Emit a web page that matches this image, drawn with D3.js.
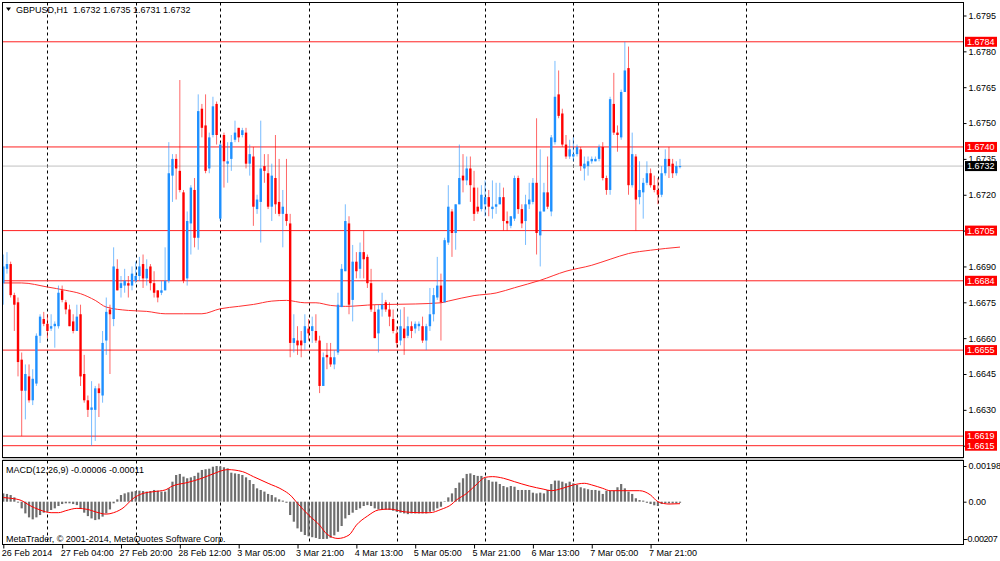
<!DOCTYPE html>
<html>
<head>
<meta charset="utf-8">
<script src="https://cdn.jsdelivr.net/npm/d3@7"></script>
<style>
  body { margin: 0; background: #fff; }
  svg { display: block; }
</style>
</head>
<body>
<svg id="chart" width="1000" height="561"></svg>
<script>
// GBPUSD H1 candles, one entry per bar (bar 0 = 26 Feb 2014 12:00)
const opens = [1.6683,1.6689,1.6691,1.6678,1.6675,1.6651,1.6638,1.6644,1.6634,1.6641,
1.6661,1.6668,1.6666,1.6664,1.6665,1.6665,1.6680,1.6675,1.6672,1.6667,
1.6663,1.6670,1.6645,1.6634,1.6630,1.6630,1.6639,1.6636,1.6659,1.6672,
1.6668,1.6689,1.6681,1.6682,1.6683,1.6682,1.6684,1.6686,1.6691,1.6685,
1.6690,1.6683,1.6680,1.6679,1.6680,1.6684,1.6728,1.6735,1.6730,1.6721,
1.6685,1.6708,1.6722,1.6702,1.6756,1.6749,1.6731,1.6745,1.6758,1.6710,
1.6745,1.6733,1.6735,1.6743,1.6748,1.6745,1.6746,1.6733,1.6736,1.6714,
1.6717,1.6732,1.6729,1.6715,1.6727,1.6717,1.6712,1.6712,1.6708,1.6658,
1.6659,1.6659,1.6658,1.6664,1.6663,1.6663,1.6659,1.6640,1.6653,1.6652,
1.6649,1.6654,1.6673,1.6688,1.6708,1.6676,1.6692,1.6689,1.6696,1.6694,
1.6683,1.6671,1.6662,1.6672,1.6675,1.6672,1.6668,1.6662,1.6659,1.6664,
1.6661,1.6665,1.6664,1.6665,1.6665,1.6659,1.6665,1.6670,1.6677,1.6682,
1.6675,1.6700,1.6713,1.6704,1.6716,1.6728,1.6726,1.6731,1.6723,1.6715,
1.6714,1.6716,1.6719,1.6714,1.6715,1.6716,1.6719,1.6709,1.6707,1.6710,
1.6727,1.6714,1.6709,1.6716,1.6717,1.6725,1.6703,1.6713,1.6721,1.6713,
1.6742,1.6762,1.6754,1.6741,1.6736,1.6736,1.6737,1.6739,1.6731,1.6732,
1.6734,1.6734,1.6735,1.6740,1.6727,1.6722,1.6758,1.6746,1.6744,1.6763,
1.6773,1.6724,1.6736,1.6719,1.6721,1.6725,1.6729,1.6724,1.6722,1.6720,
1.6729,1.6735,1.6733,1.6729,1.6732]
const highs = [1.6695,1.6696,1.6692,1.6679,1.6677,1.6654,1.6649,1.6649,1.6647,1.6662,
1.6670,1.6671,1.6670,1.6670,1.6667,1.6682,1.6682,1.6676,1.6674,1.6670,
1.6674,1.6674,1.6653,1.6636,1.6642,1.6640,1.6641,1.6663,1.6677,1.6674,
1.6698,1.6693,1.6686,1.6689,1.6686,1.6690,1.6692,1.6694,1.6695,1.6693,
1.6691,1.6688,1.6680,1.6684,1.6698,1.6742,1.6737,1.6737,1.6768,1.6722,
1.6713,1.6724,1.6727,1.6762,1.6758,1.6762,1.6746,1.6761,1.6759,1.6742,
1.6746,1.6742,1.6745,1.6751,1.6748,1.6748,1.6748,1.6741,1.6740,1.6720,
1.6751,1.6737,1.6737,1.6733,1.6745,1.6735,1.6722,1.6735,1.6712,1.6670,
1.6665,1.6663,1.6670,1.6668,1.6669,1.6670,1.6661,1.6654,1.6658,1.6658,
1.6655,1.6679,1.6691,1.6716,1.6711,1.6699,1.6696,1.6700,1.6705,1.6695,
1.6689,1.6674,1.6674,1.6679,1.6676,1.6675,1.6672,1.6665,1.6672,1.6673,
1.6669,1.6667,1.6667,1.6667,1.6669,1.6666,1.6681,1.6681,1.6694,1.6687,
1.6702,1.6724,1.6714,1.6716,1.6741,1.6737,1.6736,1.6736,1.6730,1.6723,
1.6724,1.6726,1.6722,1.6726,1.6725,1.6725,1.6723,1.6713,1.6711,1.6728,
1.6728,1.6716,1.6720,1.6725,1.6727,1.6752,1.6739,1.6725,1.6736,1.6745,
1.6776,1.6772,1.6756,1.6745,1.6743,1.6744,1.6741,1.6740,1.6736,1.6736,
1.6736,1.6736,1.6741,1.6742,1.6728,1.6761,1.6771,1.6749,1.6764,1.6784,
1.6782,1.6746,1.6737,1.6734,1.6727,1.6734,1.6731,1.6728,1.6727,1.6732,
1.6739,1.6740,1.6735,1.6734,1.6735]
const lows = [1.6674,1.6687,1.6677,1.6663,1.6644,1.6619,1.6626,1.6633,1.6632,1.6640,
1.6658,1.6665,1.6660,1.6663,1.6656,1.6664,1.6675,1.6670,1.6665,1.6662,
1.6663,1.6640,1.6633,1.6627,1.6615,1.6617,1.6627,1.6633,1.6653,1.6645,
1.6665,1.6680,1.6677,1.6679,1.6677,1.6680,1.6683,1.6684,1.6681,1.6682,
1.6680,1.6677,1.6675,1.6678,1.6680,1.6683,1.6717,1.6718,1.6721,1.6683,
1.6682,1.6695,1.6698,1.6697,1.6744,1.6729,1.6729,1.6744,1.6741,1.6709,
1.6723,1.6725,1.6730,1.6742,1.6742,1.6744,1.6731,1.6728,1.6707,1.6712,
1.6700,1.6725,1.6714,1.6709,1.6712,1.6711,1.6698,1.6707,1.6652,1.6654,
1.6653,1.6652,1.6655,1.6659,1.6658,1.6658,1.6637,1.6640,1.6647,1.6648,
1.6647,1.6653,1.6673,1.6688,1.6670,1.6667,1.6685,1.6685,1.6685,1.6681,
1.6671,1.6660,1.6654,1.6669,1.6671,1.6665,1.6662,1.6656,1.6657,1.6653,
1.6660,1.6660,1.6662,1.6663,1.6658,1.6655,1.6663,1.6667,1.6676,1.6659,
1.6675,1.6699,1.6694,1.6697,1.6716,1.6721,1.6724,1.6717,1.6709,1.6712,
1.6713,1.6711,1.6711,1.6710,1.6712,1.6716,1.6705,1.6705,1.6706,1.6709,
1.6712,1.6706,1.6699,1.6714,1.6716,1.6695,1.6690,1.6713,1.6714,1.6711,
1.6741,1.6752,1.6740,1.6735,1.6735,1.6734,1.6736,1.6730,1.6726,1.6728,
1.6733,1.6734,1.6734,1.6726,1.6720,1.6720,1.6745,1.6738,1.6743,1.6763,
1.6720,1.6723,1.6705,1.6716,1.6710,1.6724,1.6723,1.6721,1.6716,1.6719,
1.6728,1.6727,1.6727,1.6728,1.6731]
const closes = [1.6690,1.6691,1.6678,1.6674,1.6650,1.6638,1.6645,1.6634,1.6643,1.6661,
1.6669,1.6666,1.6663,1.6665,1.6666,1.6679,1.6676,1.6672,1.6665,1.6663,
1.6669,1.6644,1.6634,1.6630,1.6631,1.6639,1.6637,1.6658,1.6671,1.6670,
1.6690,1.6680,1.6683,1.6684,1.6682,1.6687,1.6686,1.6690,1.6685,1.6689,
1.6683,1.6679,1.6677,1.6680,1.6684,1.6729,1.6735,1.6731,1.6722,1.6684,
1.6709,1.6723,1.6702,1.6755,1.6748,1.6730,1.6744,1.6757,1.6745,1.6741,
1.6734,1.6734,1.6742,1.6746,1.6744,1.6747,1.6733,1.6737,1.6715,1.6718,
1.6731,1.6730,1.6715,1.6728,1.6716,1.6712,1.6715,1.6709,1.6658,1.6660,
1.6657,1.6657,1.6665,1.6662,1.6665,1.6659,1.6640,1.6652,1.6652,1.6649,
1.6652,1.6674,1.6689,1.6709,1.6674,1.6692,1.6688,1.6696,1.6693,1.6683,
1.6672,1.6660,1.6672,1.6674,1.6672,1.6669,1.6663,1.6658,1.6665,1.6660,
1.6665,1.6663,1.6666,1.6666,1.6659,1.6665,1.6670,1.6678,1.6682,1.6675,
1.6701,1.6715,1.6704,1.6716,1.6727,1.6726,1.6731,1.6724,1.6712,1.6713,
1.6720,1.6719,1.6715,1.6715,1.6716,1.6719,1.6709,1.6708,1.6711,1.6727,
1.6714,1.6708,1.6716,1.6718,1.6725,1.6704,1.6713,1.6721,1.6715,1.6744,
1.6761,1.6753,1.6741,1.6736,1.6739,1.6737,1.6740,1.6732,1.6733,1.6734,
1.6735,1.6735,1.6740,1.6727,1.6722,1.6760,1.6746,1.6745,1.6763,1.6772,
1.6724,1.6737,1.6718,1.6722,1.6725,1.6729,1.6724,1.6722,1.6720,1.6729,
1.6735,1.6732,1.6729,1.6732,1.6732]

// moving average read at some bars
const maBars = [0,5,12,17,21,25,28,34,39,44,49,54,59,64,68,73,77,82,85,89,93,101,112,119,121,128,134,139,146,153,160,165,170,176,184]
const maVals = [1.66831,1.66831,1.66814,1.66800,1.66786,1.66758,1.66730,1.66716,1.66712,1.66702,
1.66702,1.66702,1.66723,1.66733,1.66741,1.66755,1.66758,1.66748,1.66748,1.66737,
1.66733,1.66740,1.66743,1.66748,1.66755,1.66778,1.66789,1.66811,1.66842,1.66880,
1.66905,1.66930,1.66954,1.66968,1.66981]

// MACD(12,26,9) main values, one per bar
const macd = [0.00046,0.00043,0.00037,0.00024,-0.00005,-0.00037,-0.00065,-0.00087,-0.00098,-0.00087,
-0.00074,-0.00061,-0.00056,-0.00046,-0.00037,-0.00024,-0.00013,-0.00009,-0.00009,-0.00013,
-0.00019,-0.00037,-0.00061,-0.00080,-0.00093,-0.00102,-0.00098,-0.00083,-0.00065,-0.00043,
-0.00009,0.00013,0.00037,0.00046,0.00052,0.00056,0.00059,0.00061,0.00059,0.00056,
0.00059,0.00065,0.00061,0.00056,0.00056,0.00074,0.00111,0.00148,0.00154,0.00139,
0.00130,0.00135,0.00143,0.00161,0.00176,0.00180,0.00183,0.00194,0.00198,0.00196,
0.00191,0.00185,0.00161,0.00157,0.00154,0.00148,0.00135,0.00120,0.00098,0.00074,
0.00065,0.00056,0.00043,0.00037,0.00024,0.00013,0.00006,-0.00006,-0.00074,-0.00111,
-0.00148,-0.00167,-0.00185,-0.00192,-0.00197,-0.00201,-0.00207,-0.00207,-0.00206,-0.00200,
-0.00187,-0.00167,-0.00135,-0.00093,-0.00074,-0.00061,-0.00046,-0.00037,-0.00024,-0.00019,
-0.00024,-0.00037,-0.00043,-0.00043,-0.00043,-0.00046,-0.00050,-0.00056,-0.00061,-0.00065,
-0.00069,-0.00065,-0.00065,-0.00065,-0.00065,-0.00065,-0.00056,-0.00050,-0.00037,-0.00028,
0.00002,0.00024,0.00046,0.00076,0.00106,0.00130,0.00154,0.00157,0.00148,0.00143,
0.00143,0.00130,0.00120,0.00111,0.00111,0.00098,0.00087,0.00080,0.00087,0.00083,
0.00065,0.00065,0.00065,0.00065,0.00050,0.00046,0.00050,0.00046,0.00065,0.00098,
0.00117,0.00117,0.00111,0.00102,0.00111,0.00102,0.00093,0.00080,0.00074,0.00069,
0.00065,0.00065,0.00061,0.00043,0.00061,0.00061,0.00061,0.00080,0.00098,0.00074,
0.00056,0.00043,0.00019,0.00009,0.00006,-0.00006,-0.00013,-0.00020,-0.00024,-0.00013,
-0.00009,-0.00009,-0.00009,-0.00009,-0.00006]

// signal line read at some bars
const sigBars = [0,2,5,7,10,13,15,17,20,23,25,28,30,33,35,38,41,44,46,50,54,57,61,65,68,72,76,78,80,83,86,88,91,94,96,99,102,105,109,113,116,119,122,123,126,129,131,133,136,139,143,147,149,152,155,158,160,163,165,168,173,176,178,181,184]
const sigVals = [0.00023,0.00019,0.00006,-0.00019,-0.00046,-0.00061,-0.00061,-0.00050,-0.00037,-0.00043,
-0.00056,-0.00069,-0.00061,-0.00028,0.00013,0.00046,0.00056,0.00065,0.00087,0.00106,
0.00130,0.00154,0.00178,0.00167,0.00139,0.00102,0.00065,0.00037,-0.00009,-0.00074,
-0.00130,-0.00180,-0.00204,-0.00185,-0.00130,-0.00080,-0.00046,-0.00041,-0.00056,-0.00061,
-0.00061,-0.00043,-0.00013,0.00006,0.00046,0.00102,0.00135,0.00139,0.00130,0.00111,
0.00087,0.00069,0.00061,0.00074,0.00093,0.00102,0.00093,0.00074,0.00061,0.00061,
0.00061,0.00037,0.00000,-0.00013,-0.00011]

const levels = [1.6784, 1.6740, 1.6705, 1.6684, 1.6655, 1.6619, 1.6615]
const bid = 1.6732
const priceTicks = [1.6795,1.6780,1.6765,1.6750,1.6735,1.6720,1.6705,1.6690,1.6675,1.6660,1.6645,1.6630,1.6615]
const macdTicks = [0.00198, 0, -0.00207]
const gridBars = [12, 36, 59, 83, 107, 131, 155, 178, 202]
const labelBars = [0,16,32,48,64,80,96,112,128,144,160,176]
const labelText = ["26 Feb 2014","27 Feb 04:00","27 Feb 20:00","28 Feb 12:00","3 Mar 05:00","3 Mar 21:00",
  "4 Mar 13:00","5 Mar 05:00","5 Mar 21:00","6 Mar 13:00","7 Mar 05:00","7 Mar 21:00"]

const font = "'Liberation Sans', Arial, sans-serif"
const bull = "#1e90ff", bear = "#ff0000"
const left = 2.5, right = 963.5
const mainTop = 2.5, mainBottom = 457.5, macdTop = 460.5, macdBottom = 544.5

const svg = d3.select("#chart")

const x = d3.scaleLinear().domain([0, 184]).range([3.3, 680])
const y = d3.scaleLinear().domain([1.6615, 1.6795]).range([445.7, 15.5])
const ym = d3.scaleLinear().domain([-0.00207, 0.00198]).range([539, 466])

svg.append("defs").append("clipPath").attr("id", "mainClip")
  .append("rect").attr("x", left).attr("y", mainTop).attr("width", right - left).attr("height", mainBottom - mainTop)

// vertical dashed grid in both panels
for (const [t, b] of [[mainTop, mainBottom], [macdTop, macdBottom]]) {
  svg.append("g").selectAll("line").data(gridBars).join("line")
    .attr("x1", d => Math.round(x(d)) + 0.5).attr("x2", d => Math.round(x(d)) + 0.5)
    .attr("y1", t).attr("y2", b)
    .attr("stroke", "#000").attr("stroke-dasharray", "3,3")
}

// bid line and horizontal levels
svg.append("line").attr("x1", left).attr("x2", right)
  .attr("y1", y(bid)).attr("y2", y(bid)).attr("stroke", "#c0c0c0")
svg.append("g").selectAll("line").data(levels).join("line")
  .attr("x1", left).attr("x2", right)
  .attr("y1", d => y(d)).attr("y2", d => y(d))
  .attr("stroke", "#ff2020").attr("stroke-width", 1)

const main = svg.append("g").attr("clip-path", "url(#mainClip)")

// moving average
const maPts = maBars.map((b, i) => [b, maVals[i]])
main.append("path").datum(maPts)
  .attr("fill", "none").attr("stroke", "#ff3030").attr("stroke-width", 1)
  .attr("d", d3.line().x(d => x(d[0])).y(d => y(d[1])).curve(d3.curveMonotoneX))

// candles
const bars = opens.map((o, i) => ({ i, o, h: highs[i], l: lows[i], c: closes[i] }))
main.selectAll("line.wick").data(bars).join("line").attr("class", "wick")
  .attr("x1", d => x(d.i)).attr("x2", d => x(d.i))
  .attr("y1", d => y(d.h)).attr("y2", d => y(d.l))
  .attr("stroke", d => d.c >= d.o ? bull : bear).attr("stroke-opacity", 0.6)
main.selectAll("rect.body").data(bars).join("rect").attr("class", "body")
  .attr("x", d => x(d.i) - 1.2).attr("width", 2.4)
  .attr("y", d => y(Math.max(d.o, d.c)))
  .attr("height", d => Math.max(1, Math.abs(y(d.o) - y(d.c))))
  .attr("fill", d => d.c >= d.o ? bull : bear)

// MACD histogram and signal
svg.append("g").selectAll("rect").data(macd).join("rect")
  .attr("x", (d, i) => x(i) - 1.1).attr("width", 2.2)
  .attr("y", d => Math.min(ym(d), ym(0)))
  .attr("height", d => Math.max(0.5, Math.abs(ym(d) - ym(0))))
  .attr("fill", "#6e6e6e")
const sigPts = sigBars.map((b, i) => [b, sigVals[i]])
svg.append("path").datum(sigPts)
  .attr("fill", "none").attr("stroke", "#ff0000").attr("stroke-width", 1)
  .attr("d", d3.line().x(d => x(d[0])).y(d => ym(d[1])).curve(d3.curveMonotoneX))

// panel frames
svg.append("rect").attr("x", left).attr("y", mainTop).attr("width", right - left).attr("height", mainBottom - mainTop)
  .attr("fill", "none").attr("stroke", "#000")
svg.append("rect").attr("x", left).attr("y", mainBottom + 0.5).attr("width", right - left).attr("height", 2)
  .attr("fill", "#c8c8c8")
svg.append("rect").attr("x", left).attr("y", macdTop).attr("width", right - left).attr("height", macdBottom - macdTop)
  .attr("fill", "none").attr("stroke", "#000")

// axes
const styleAxis = g => {
  g.select(".domain").remove()
  g.attr("font-family", font).attr("font-size", 9)
  g.selectAll("text").attr("fill", "#000")
}
svg.append("g").attr("transform", `translate(${right},0)`)
  .call(d3.axisRight(y).tickValues(priceTicks).tickSize(3).tickPadding(2).tickFormat(d3.format(".4f")))
  .call(styleAxis)
svg.append("g").attr("transform", `translate(${right},0)`)
  .call(d3.axisRight(ym).tickValues(macdTicks).tickSize(3).tickPadding(2)
    .tickFormat(d => d === 0 ? "0.00" : d.toFixed(5)))
  .call(styleAxis)
  .call(g => g.selectAll("text").filter(d => d < 0).attr("x", 1.5).attr("letter-spacing", -0.4))
svg.append("g").attr("transform", `translate(0,${macdBottom})`)
  .call(d3.axisBottom(x).tickValues(labelBars).tickSize(4).tickPadding(1).tickFormat((d, i) => labelText[i]))
  .call(styleAxis)
  .call(g => g.selectAll("text").attr("text-anchor", "start").attr("dx", -2))

// price tags on the right
const tags = levels.map(v => ({ v, fill: "#ff0000" })).concat([{ v: bid, fill: "#000" }])
const tag = svg.append("g").selectAll("g").data(tags).join("g")
  .attr("transform", d => `translate(965,${y(d.v)})`)
tag.append("rect").attr("x", 0).attr("y", -5).attr("width", 32).attr("height", 10).attr("fill", d => d.fill)
tag.append("text").attr("x", 2).attr("dy", "0.35em").attr("fill", "#fff")
  .attr("font-family", font).attr("font-size", 9).text(d => d.v.toFixed(4))

// texts
svg.append("path").attr("d", "M6,7.5 L11,7.5 L8.5,11 Z").attr("fill", "#000")
svg.append("text").attr("x", 16).attr("y", 13).attr("font-family", font).attr("font-size", 9)
  .style("white-space", "pre").text("GBPUSD,H1  1.6732 1.6735 1.6731 1.6732")
svg.append("text").attr("x", 6).attr("y", 473).attr("font-family", font).attr("font-size", 9)
  .text("MACD(12,26,9) -0.00006 -0.00011")
svg.append("text").attr("x", 6).attr("y", 542).attr("font-family", font).attr("font-size", 9)
  .text("MetaTrader, © 2001-2014, MetaQuotes Software Corp.")
</script>
</body>
</html>
